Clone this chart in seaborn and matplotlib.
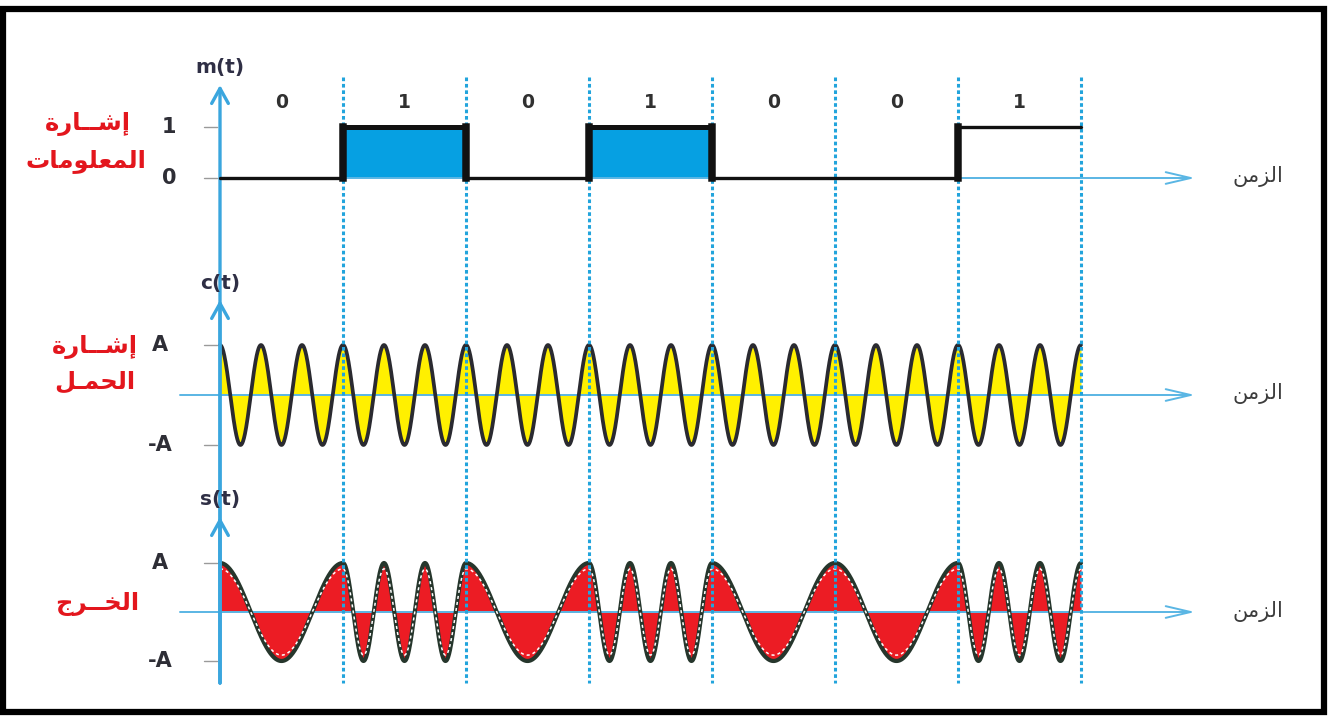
import numpy as np
import pandas as pd
import matplotlib
matplotlib.use("Agg")
import matplotlib.pyplot as plt
from matplotlib.patches import Rectangle
import seaborn as sns

# ---------------------------------------------------------------------------
# Signal description
# ---------------------------------------------------------------------------
bits = [0, 1, 0, 1, 0, 0, 1]
carrier_cycles = 3          # carrier periods in one bit slot
fsk_cycles = [1, 3]         # output periods in one bit slot for a 0 / for a 1
amplitude = 1.0

m_ticks = [0, 1]
m_tick_labels = ["0", "1"]
a_ticks = [amplitude, -amplitude]
a_tick_labels = ["A", "-A"]

panel_titles = ["m(t)", "c(t)", "s(t)"]
time_label = "الزمن"
m_caption = ["إشــارة", "المعلومات"]
c_caption = ["إشــارة", "الحمـل"]
s_caption = ["الخــرج"]

# ---------------------------------------------------------------------------
# Minimal Arabic shaping (contextual forms + right-to-left order)
# ---------------------------------------------------------------------------
FORMS = {
    "\u0625": ("\ufe87", "\ufe88"),
    "\u0627": ("\ufe8d", "\ufe8e"),
    "\u0631": ("\ufead", "\ufeae"),
    "\u0629": ("\ufe93", "\ufe94"),
    "\u0648": ("\ufeed", "\ufeee"),
    "\u0632": ("\ufeaf", "\ufeb0"),
    "\u0634": ("\ufeb5", "\ufeb6", "\ufeb7", "\ufeb8"),
    "\u0644": ("\ufedd", "\ufede", "\ufedf", "\ufee0"),
    "\u0645": ("\ufee1", "\ufee2", "\ufee3", "\ufee4"),
    "\u0639": ("\ufec9", "\ufeca", "\ufecb", "\ufecc"),
    "\u062a": ("\ufe95", "\ufe96", "\ufe97", "\ufe98"),
    "\u062d": ("\ufea1", "\ufea2", "\ufea3", "\ufea4"),
    "\u062e": ("\ufea5", "\ufea6", "\ufea7", "\ufea8"),
    "\u062c": ("\ufe9d", "\ufe9e", "\ufe9f", "\ufea0"),
    "\u0646": ("\ufee5", "\ufee6", "\ufee7", "\ufee8"),
    "\u0640": ("\u0640",) * 4,
}


def dual(ch):
    return ch in FORMS and len(FORMS[ch]) == 4


def shape(text):
    out = []
    for i, ch in enumerate(text):
        if ch not in FORMS:
            out.append(ch)
            continue
        prev_joins = i > 0 and dual(text[i - 1])
        next_joins = dual(ch) and i + 1 < len(text) and text[i + 1] in FORMS
        f = FORMS[ch]
        if prev_joins and next_joins:
            out.append(f[3])
        elif prev_joins:
            out.append(f[1])
        elif next_joins:
            out.append(f[2])
        else:
            out.append(f[0])
    return "".join(reversed(out))


# ---------------------------------------------------------------------------
# Waveforms
# ---------------------------------------------------------------------------
n_per_bit = 400
t_parts, c_parts, s_parts = [], [], []
for k, b in enumerate(bits):
    tt = np.linspace(k, k + 1, n_per_bit)
    t_parts.append(tt)
    c_parts.append(amplitude * np.cos(2 * np.pi * carrier_cycles * (tt - k)))
    s_parts.append(amplitude * np.cos(2 * np.pi * fsk_cycles[b] * (tt - k)))
wave = pd.DataFrame({"t": np.concatenate(t_parts),
                     "c": np.concatenate(c_parts),
                     "s": np.concatenate(s_parts)})

step_t, step_m = [], []
for k, b in enumerate(bits):
    step_t += [k, k + 1]
    step_m += [b, b]
steps = pd.DataFrame({"t": step_t, "m": step_m})

# ---------------------------------------------------------------------------
# Figure layout
# ---------------------------------------------------------------------------
sns.set_theme(style="white")
plt.rcParams["font.family"] = ["DejaVu Sans"]

W, H = 1333, 716
fig = plt.figure(figsize=(W / 100, H / 100), dpi=100)
fig.patch.set_facecolor("white")

X0, BIT = 220, 123
xlim = (-X0 / BIT, (W - X0) / BIT)


def tx(px):
    return (px - X0) / BIT


def panel(top, bottom, zero, unit):
    ax = fig.add_axes([0, 1 - bottom / H, 1, (bottom - top) / H])
    ax.set_xlim(xlim)
    ax.set_ylim((zero - bottom) / unit, (zero - top) / unit)
    ax.axis("off")
    ax.patch.set_alpha(0)
    return ax


AXIS_BLUE = "#3aa6de"
LIGHT_BLUE = "#5ab6e4"
DOT_BLUE = "#22a4dc"
TXT = "#2e2e36"
RED_TXT = "#e3161d"
n_bits = len(bits)
arrow_end = tx(1195)


def time_axis(ax, x_start):
    ax.annotate("", xy=(arrow_end, 0), xytext=(x_start, 0),
                arrowprops=dict(arrowstyle="->,head_length=1.5,head_width=0.35",
                                color=LIGHT_BLUE, lw=1.4, shrinkA=0, shrinkB=0),
                zorder=3)
    ax.text(tx(1258), 0.02, shape(time_label), ha="center", va="center",
            fontsize=15, color="#3c3c3c")


def ticks(ax, values, labels, label_px):
    for v, lab in zip(values, labels):
        ax.plot([tx(204), tx(217)], [v, v], color="#9a9a9a", lw=1.0)
        ax.text(tx(label_px), v, lab, ha="center", va="center",
                fontsize=15, fontweight="bold", color=TXT)


# --- m(t): information signal ---------------------------------------------
ax_m = panel(40, 215, 178, 51)
last = n_bits - 1
for k, b in enumerate(bits):
    if b == 1 and k < last:
        ax_m.fill_between([k, k + 1], 0, 1, color="#06a0e2", lw=0, zorder=1)
        ax_m.plot([k, k + 1], [1, 1], color="#111111", lw=3.6, zorder=4,
                  solid_capstyle="butt")
time_axis(ax_m, 0)
sns.lineplot(data=steps, x="t", y="m", estimator=None, sort=False,
             color="#111111", lw=2.4, ax=ax_m, zorder=4)
for k in range(1, n_bits):
    if bits[k] != bits[k - 1]:
        ax_m.plot([k, k], [0, 1], color="#111111", lw=5.4, zorder=5,
                  solid_capstyle="projecting")
ticks(ax_m, m_ticks[::-1], m_tick_labels[::-1], 169)
ax_m.set_xlabel(""); ax_m.set_ylabel("")

# --- c(t): carrier ------------------------------------------------------------
ax_c = panel(250, 470, 395, 50)
ax_c.fill_between(wave["t"], wave["c"], 0, color="#fff000", lw=0, zorder=1)
time_axis(ax_c, tx(180))
sns.lineplot(data=wave, x="t", y="c", estimator=None, sort=False,
             color="#2a2a30", lw=2.7, ax=ax_c, zorder=4)
ticks(ax_c, a_ticks, a_tick_labels, 160)
ax_c.set_xlabel(""); ax_c.set_ylabel("")

# --- s(t): FSK output ---------------------------------------------------------
ax_s = panel(470, 700, 612, 49)
ax_s.fill_between(wave["t"], wave["s"], 0, color="#ec1c24", lw=0, zorder=1)
time_axis(ax_s, tx(180))
sns.lineplot(data=wave, x="t", y="s", estimator=None, sort=False,
             color="#26362c", lw=3.0, ax=ax_s, zorder=4)
inner = wave.assign(s_in=wave["s"] * 0.88)
sns.lineplot(data=inner, x="t", y="s_in", estimator=None, sort=False,
             color="white", lw=1.1, ax=ax_s, zorder=5)
ax_s.lines[-1].set_linestyle((0, (2.0, 2.0)))
ticks(ax_s, a_ticks, a_tick_labels, 160)
ax_s.set_xlabel(""); ax_s.set_ylabel("")

# --- overlay: bit boundaries, vertical axis, labels, frame --------------------
top = fig.add_axes([0, 0, 1, 1])
top.set_xlim(xlim)
top.set_ylim(H, 0)
top.axis("off")
top.patch.set_alpha(0)
top.set_zorder(2)
ax_m.set_zorder(3)   # pulse edges stay solid above the boundary markers

for k in range(1, n_bits + 1):
    top.plot([k, k], [77, 683], color=DOT_BLUE, lw=2.2,
             linestyle=(0, (1.2, 0.9)))

for tip in (85, 300, 517):
    top.annotate("", xy=(0, tip), xytext=(0, 683),
                 arrowprops=dict(arrowstyle="->,head_length=0.9,head_width=0.5",
                                 color=AXIS_BLUE, lw=2.4, shrinkA=0, shrinkB=0))

for title, ypx in zip(panel_titles, (68, 283, 500)):
    top.text(0, ypx, title, ha="center", va="center", fontsize=14.5,
             fontweight="bold", color="#2f2f45")

for k, b in enumerate(bits):
    top.text(k + 0.5, 103, str(b), ha="center", va="center", fontsize=13.5,
             fontweight="bold", color="#303030")

arabic = dict(ha="center", va="center", fontsize=17.5, fontweight="bold",
              color=RED_TXT)
top.text(tx(88), 124, shape(m_caption[0]), **arabic)
top.text(tx(86), 161, shape(m_caption[1]), **arabic)
top.text(tx(95), 347, shape(c_caption[0]), **arabic)
top.text(tx(95), 382, shape(c_caption[1]), **arabic)
top.text(tx(97), 604, shape(s_caption[0]), **arabic)

top.add_patch(Rectangle((tx(3), 9), (1324 - 3) / BIT, 703,
                        fill=False, ec="black", lw=4.5))

fig.savefig("out.png", dpi=100, facecolor="white")
